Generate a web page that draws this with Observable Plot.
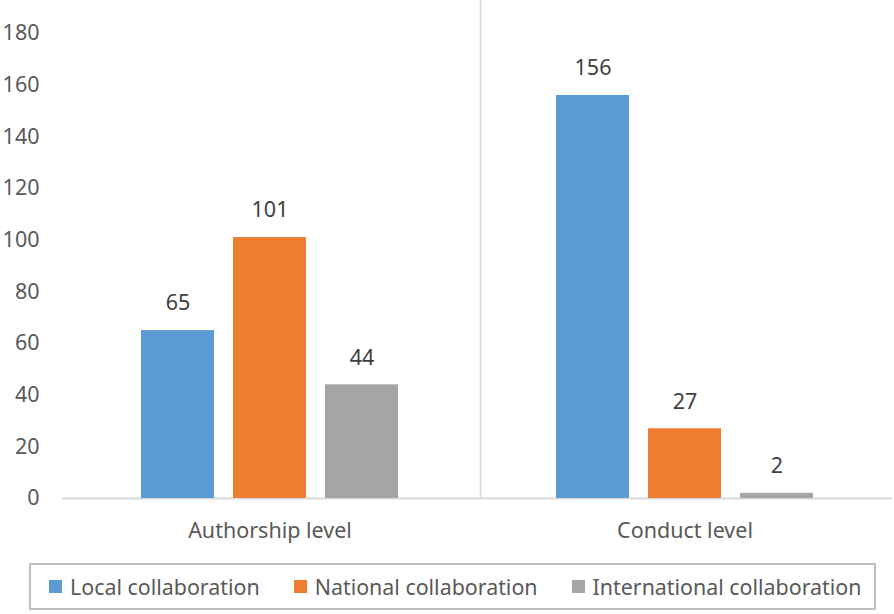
<!DOCTYPE html>
<html>
<head>
<meta charset="utf-8">
<script src="https://cdn.jsdelivr.net/npm/d3@7"></script>
<script src="https://cdn.jsdelivr.net/npm/@observablehq/plot@0.6"></script>
<style>
  body { margin: 0; background: #fff; font-family: "Noto Sans", sans-serif; }
  #chart { width: 894px; }
  .legend { box-sizing: border-box; margin-left: 29px; margin-top: 13px; width: 847px; height: 47px;
    border: 2px solid #bfbfbf; display: flex; align-items: center; padding-left: 18px;
    font-size: 21.4px; color: #595959; white-space: nowrap; overflow: hidden; }
  .item { display: flex; align-items: center; margin-right: 34px; flex-shrink: 0; white-space: nowrap; }
  .sw { width: 13px; height: 13px; margin-right: 8px; flex-shrink: 0; }
</style>
</head>
<body>
<div id="chart"></div>
<script>
const groups = ["Authorship level", "Conduct level"];
const series = ["Local collaboration", "National collaboration", "International collaboration"];
const authorshipValues = [65, 101, 44];
const conductValues = [156, 27, 2];
const colors = ["#5B9BD5", "#ED7D31", "#A5A5A5"];
const yTicks = [0, 20, 40, 60, 80, 100, 120, 140, 160, 180];

const valuesByGroup = [authorshipValues, conductValues];
const data = [];
groups.forEach((g, gi) => series.forEach((s, si) => data.push({group: g, series: s, value: valuesByGroup[gi][si]})));

const plot = Plot.plot({
  width: 894, height: 550,
  marginTop: 33, marginBottom: 52, marginLeft: 61, marginRight: 2,
  style: {fontFamily: "Noto Sans", fontSize: "21.5px", color: "#595959", background: "white"},
  fx: {domain: groups, padding: 0, axis: "bottom", label: null, tickSize: 0, tickPadding: 24},
  x: {domain: series, axis: null, paddingInner: 0.21, paddingOuter: 0.85},
  y: {domain: [0, 180], ticks: yTicks, tickSize: 0, tickPadding: 23, label: null},
  color: {domain: series, range: colors},
  marks: [
    Plot.ruleY([0], {stroke: "#d9d9d9", strokeWidth: 2}),
    Plot.barY(data, {fx: "group", x: "series", y: "value", fill: "series"}),
    Plot.text(data, {fx: "group", x: "series", y: "value", text: d => String(d.value), dy: -27, fontSize: 21.5, fill: "#404040"})
  ]
});
document.getElementById("chart").appendChild(plot);

// separator line between groups, positioned with Plot's own scales
const fx = plot.scale("fx"), y = plot.scale("y");
const sx = fx.apply(groups[1]) + 3.5;
d3.select(plot).append("line")
  .attr("x1", sx).attr("x2", sx).attr("y1", 0).attr("y2", y.apply(0))
  .attr("stroke", "#d9d9d9").attr("stroke-width", 1.5);

// legend
const legend = d3.select("body").append("div").attr("class", "legend");
series.forEach((s, i) => {
  const it = legend.append("div").attr("class", "item");
  it.append("div").attr("class", "sw").style("background", colors[i]);
  it.append("span").text(s);
});
</script>
</body>
</html>
